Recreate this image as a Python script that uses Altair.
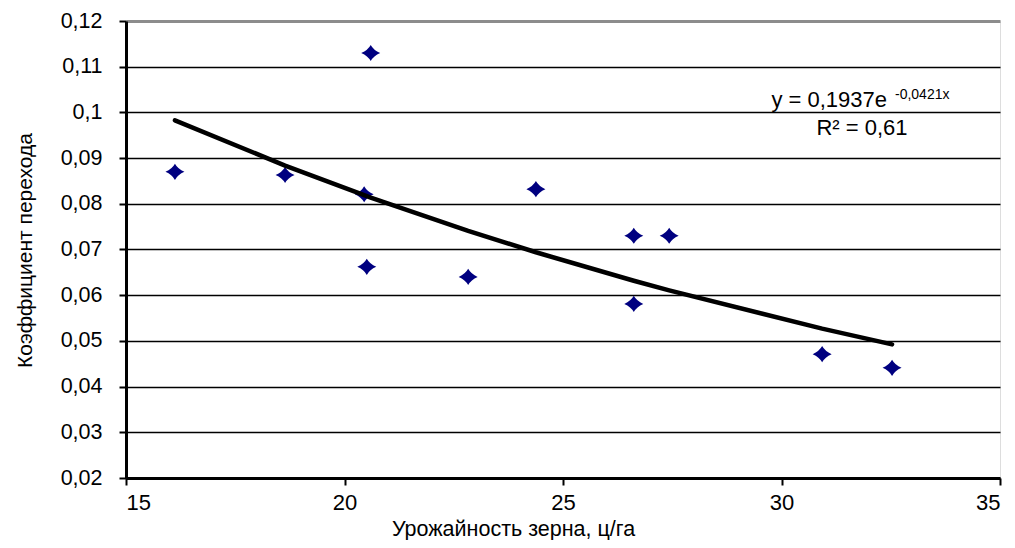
import altair as alt
import pandas as pd

# Data
yield_x = [16.12, 18.64, 20.60, 20.45, 20.51, 22.83, 24.38, 26.62, 27.43, 26.62, 30.93, 32.53]
coef_y = [0.0870, 0.0863, 0.1130, 0.0821, 0.0662, 0.0640, 0.0832, 0.0730, 0.0730, 0.0581, 0.0471, 0.0441]

# Trendline equation shown on chart: y = 0,1937 e^(-0,0421x), R^2 = 0,61
trend_a = 0.1937
trend_b = -0.0421

y_ticks = [0.02, 0.03, 0.04, 0.05, 0.06, 0.07, 0.08, 0.09, 0.10, 0.11, 0.12]
x_ticks = [15, 20, 25, 30, 35]

eq_main = "y = 0,1937e"
eq_sup = "-0,0421x"
r2_text = "R² = 0,61"

df = pd.DataFrame({"x": yield_x, "y": coef_y})

FONT = "Liberation Sans"
W, H = 874, 457

x_enc = alt.X(
    "x:Q",
    scale=alt.Scale(domain=[15, 35], nice=False, zero=False),
    axis=alt.Axis(
        values=x_ticks,
        title="Урожайность зерна, ц/га",
        grid=False,
        domainColor="black",
        domainWidth=3,
        tickColor="black",
        tickWidth=2,
        tickSize=7,
        labelPadding=7,
        labelFontSize=22,
        labelFont=FONT,
        titleFont=FONT,
        titleFontSize=21.5,
        titleFontWeight="normal",
        titleColor="black",
        labelColor="black",
        titleX=387,
        titleY=57,
        titleAlign="center",
        titleBaseline="alphabetic",
    ),
)
y_enc = alt.Y(
    "y:Q",
    scale=alt.Scale(domain=[0.02, 0.12], nice=False, zero=False),
    axis=alt.Axis(
        values=y_ticks,
        labelExpr="replace(format(datum.value, '~g'), '.', ',')",
        title="Коэффициент перехода",
        grid=True,
        gridColor={"condition": {"test": "datum.value > 0.1195", "value": "#8c8c8c"}, "value": "#000000"},
        gridWidth={"condition": {"test": "datum.value > 0.1195", "value": 3}, "value": 1.5},
        domainColor="black",
        domainWidth=3,
        tickColor="black",
        tickWidth=2,
        tickSize=7,
        labelPadding=17,
        labelFontSize=21.5,
        labelFont=FONT,
        titleFont=FONT,
        titleFontSize=21,
        titleFontWeight="normal",
        titleColor="black",
        labelColor="black",
        titleAngle=-90,
        titleX=-95,
        titleY=229,
        titleAlign="center",
        titleBaseline="alphabetic",
    ),
)

diamond = "M0,-0.85 Q0.3,-0.3 1,0 Q0.3,0.3 0,0.85 Q-0.3,0.3 -1,0 Q-0.3,-0.3 0,-0.85 Z"

points = alt.Chart(df).mark_point(
    shape=diamond, filled=True, color="#000080", size=361, opacity=1
).encode(x=x_enc, y=y_enc)

trend = (
    alt.Chart(df)
    .transform_calculate(trend=f"{trend_a} * exp({trend_b} * datum.x)")
    .mark_line(color="black", strokeWidth=4.5, strokeCap="round")
    .encode(x="x:Q", y="trend:Q", order="x:Q")
)

ann_df = pd.DataFrame({"main": [eq_main], "sup": [eq_sup], "r2": [r2_text]})
t_main = alt.Chart(ann_df).mark_text(
    font=FONT, fontSize=22, align="right", baseline="alphabetic", color="black"
).encode(text="main:N", x=alt.value(761), y=alt.value(86))
t_sup = alt.Chart(ann_df).mark_text(
    font=FONT, fontSize=14, align="left", baseline="alphabetic", color="black"
).encode(text="sup:N", x=alt.value(769), y=alt.value(78))
t_r2 = alt.Chart(ann_df).mark_text(
    font=FONT, fontSize=22, align="center", baseline="alphabetic", color="black"
).encode(text="r2:N", x=alt.value(736), y=alt.value(114))

chart = (
    alt.layer(points, trend, t_main, t_sup, t_r2)
    .properties(
        width=W,
        height=H,
        autosize=alt.AutoSizeParams(type="none"),
        padding={"left": 118, "top": 13, "right": 6, "bottom": 62},
    )
    .configure_view(stroke="#8c8c8c", strokeWidth=3)
    .configure(background="white")
)

chart.save("out.html", embed_options={"renderer": "svg", "actions": False})
